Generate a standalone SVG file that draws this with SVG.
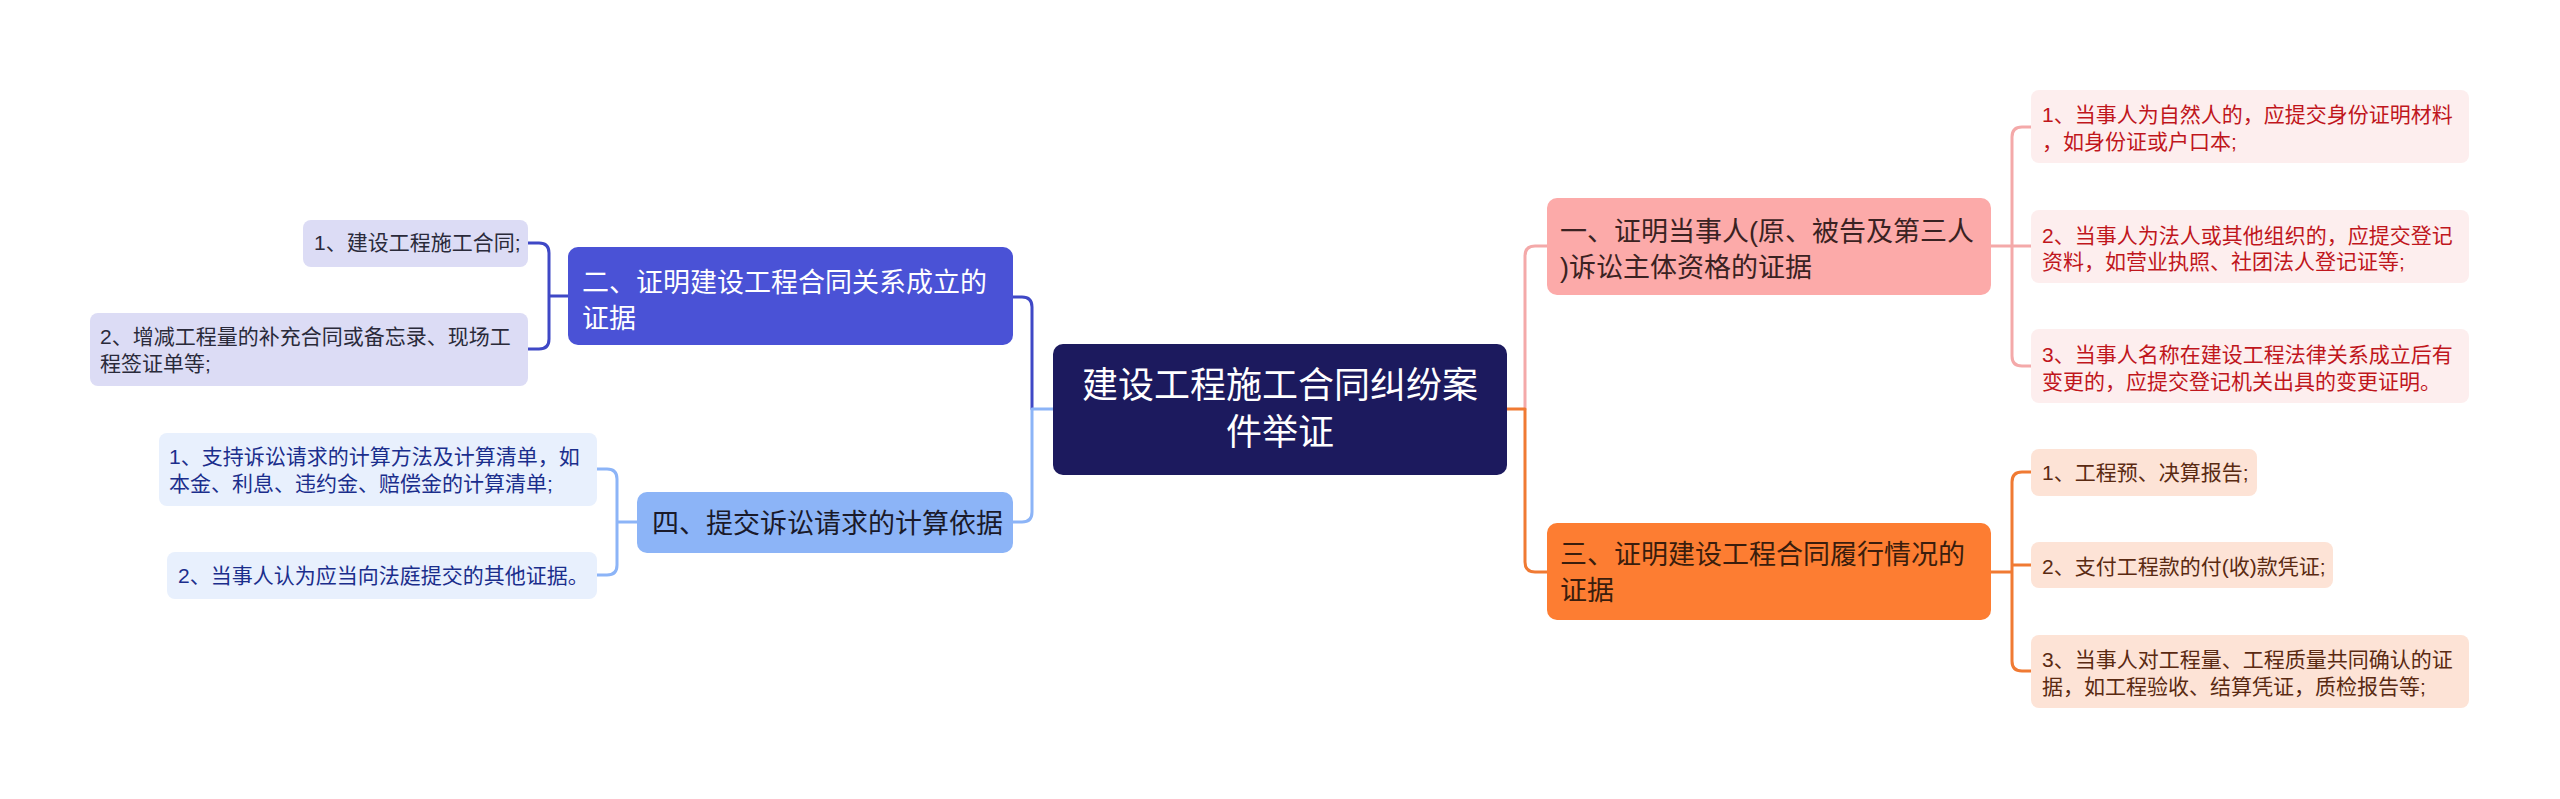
<svg xmlns="http://www.w3.org/2000/svg" width="2560" height="799" viewBox="0 0 2560 799">
<style>
text{font-family:"Liberation Sans","Noto Sans CJK SC",sans-serif}
.c{fill:none;stroke-width:3;stroke-linecap:round;stroke-linejoin:round}
.t1{font-size:36px;fill:#ffffff}
.t2{font-size:27px}
.t3{font-size:21px}
</style>
<rect width="2560" height="799" fill="#ffffff"/>
<g id="connectors">
<path class="c" stroke="#3f48c6" d="M1032,409 V307 Q1032,297 1022,297 H1013"/>
<path class="c" stroke="#8cb4f7" d="M1053,409 H1032 V512 Q1032,522 1022,522 H1013"/>
<path class="c" stroke="#3f48c6" d="M528,243 H539 Q549,243 549,253 V339 Q549,349 539,349 H528 M549,296 H568"/>
<path class="c" stroke="#8cb4f7" d="M597,469 H607 Q617,469 617,479 V565 Q617,575 607,575 H597 M617,522 H637"/>
<path class="c" stroke="#f4a9a9" d="M1525,409 V256 Q1525,246 1535,246 H1547"/>
<path class="c" stroke="#f07a33" d="M1507,409 H1525 V562 Q1525,572 1535,572 H1547"/>
<path class="c" stroke="#f4a9a9" d="M1991,246 H2031 M2031,127 H2022 Q2012,127 2012,137 V356 Q2012,366 2022,366 H2031"/>
<path class="c" stroke="#f07a33" d="M1991,572 H2012 M2031,472 H2022 Q2012,472 2012,482 V661 Q2012,671 2022,671 H2031 M2012,565 H2031"/>
</g>
<g id="root">
<rect x="1053" y="344" width="454" height="131" rx="10" fill="#1c1a5e"/>
<text class="t1" x="1280" y="398" text-anchor="middle">建设工程施工合同纠纷案</text>
<text class="t1" x="1280" y="445" text-anchor="middle">件举证</text>
</g>
<g id="n2">
<rect x="568" y="247" width="445" height="98" rx="10" fill="#4a52d6"/>
<text class="t2" x="582" y="292" fill="#ffffff">二、证明建设工程合同关系成立的</text>
<text class="t2" x="582" y="328" fill="#ffffff">证据</text>
</g>
<g id="n2-1">
<rect x="303" y="220" width="225" height="47" rx="8" fill="#dcdcf5"/>
<text class="t3" x="314" y="250" fill="#2a2a3a">1、建设工程施工合同;</text>
</g>
<g id="n2-2">
<rect x="90" y="313" width="438" height="73" rx="8" fill="#dcdcf5"/>
<text class="t3" x="100" y="344" fill="#2a2a3a">2、增减工程量的补充合同或备忘录、现场工</text>
<text class="t3" x="100" y="371" fill="#2a2a3a">程签证单等;</text>
</g>
<g id="n4">
<rect x="637" y="492" width="376" height="61" rx="10" fill="#8cb4f7"/>
<text class="t2" x="652" y="533" fill="#1a1a2a">四、提交诉讼请求的计算依据</text>
</g>
<g id="n4-1">
<rect x="159" y="433" width="438" height="73" rx="8" fill="#e8f0fd"/>
<text class="t3" x="169" y="464" fill="#1b2e8c">1、支持诉讼请求的计算方法及计算清单，如</text>
<text class="t3" x="169" y="491" fill="#1b2e8c">本金、利息、违约金、赔偿金的计算清单;</text>
</g>
<g id="n4-2">
<rect x="167" y="552" width="430" height="47" rx="8" fill="#e8f0fd"/>
<text class="t3" x="178" y="583" fill="#1b2e8c">2、当事人认为应当向法庭提交的其他证据。</text>
</g>
<g id="n1">
<rect x="1547" y="198" width="444" height="97" rx="10" fill="#fcaaa9"/>
<text class="t2" x="1560" y="241" fill="#3a2222">一、证明当事人(原、被告及第三人</text>
<text class="t2" x="1560" y="277" fill="#3a2222">)诉讼主体资格的证据</text>
</g>
<g id="n1-1">
<rect x="2031" y="90" width="438" height="73" rx="8" fill="#fdeeee"/>
<text class="t3" x="2042" y="122" fill="#c0161c">1、当事人为自然人的，应提交身份证明材料</text>
<text class="t3" x="2042" y="149" fill="#c0161c">，如身份证或户口本;</text>
</g>
<g id="n1-2">
<rect x="2031" y="210" width="438" height="73" rx="8" fill="#fdeeee"/>
<text class="t3" x="2042" y="243" fill="#c0161c">2、当事人为法人或其他组织的，应提交登记</text>
<text class="t3" x="2042" y="269" fill="#c0161c">资料，如营业执照、社团法人登记证等;</text>
</g>
<g id="n1-3">
<rect x="2031" y="329" width="438" height="74" rx="8" fill="#fdeeee"/>
<text class="t3" x="2042" y="362" fill="#c0161c">3、当事人名称在建设工程法律关系成立后有</text>
<text class="t3" x="2042" y="389" fill="#c0161c">变更的，应提交登记机关出具的变更证明。</text>
</g>
<g id="n3">
<rect x="1547" y="523" width="444" height="97" rx="10" fill="#fd7d32"/>
<text class="t2" x="1560" y="564" fill="#3a1d0d">三、证明建设工程合同履行情况的</text>
<text class="t2" x="1560" y="600" fill="#3a1d0d">证据</text>
</g>
<g id="n3-1">
<rect x="2031" y="449" width="226" height="47" rx="8" fill="#fde3d6"/>
<text class="t3" x="2042" y="480" fill="#5a2a12">1、工程预、决算报告;</text>
</g>
<g id="n3-2">
<rect x="2031" y="542" width="302" height="46" rx="8" fill="#fde3d6"/>
<text class="t3" x="2042" y="574" fill="#5a2a12">2、支付工程款的付(收)款凭证;</text>
</g>
<g id="n3-3">
<rect x="2031" y="635" width="438" height="73" rx="8" fill="#fde3d6"/>
<text class="t3" x="2042" y="667" fill="#5a2a12">3、当事人对工程量、工程质量共同确认的证</text>
<text class="t3" x="2042" y="694" fill="#5a2a12">据，如工程验收、结算凭证，质检报告等;</text>
</g>
</svg>
